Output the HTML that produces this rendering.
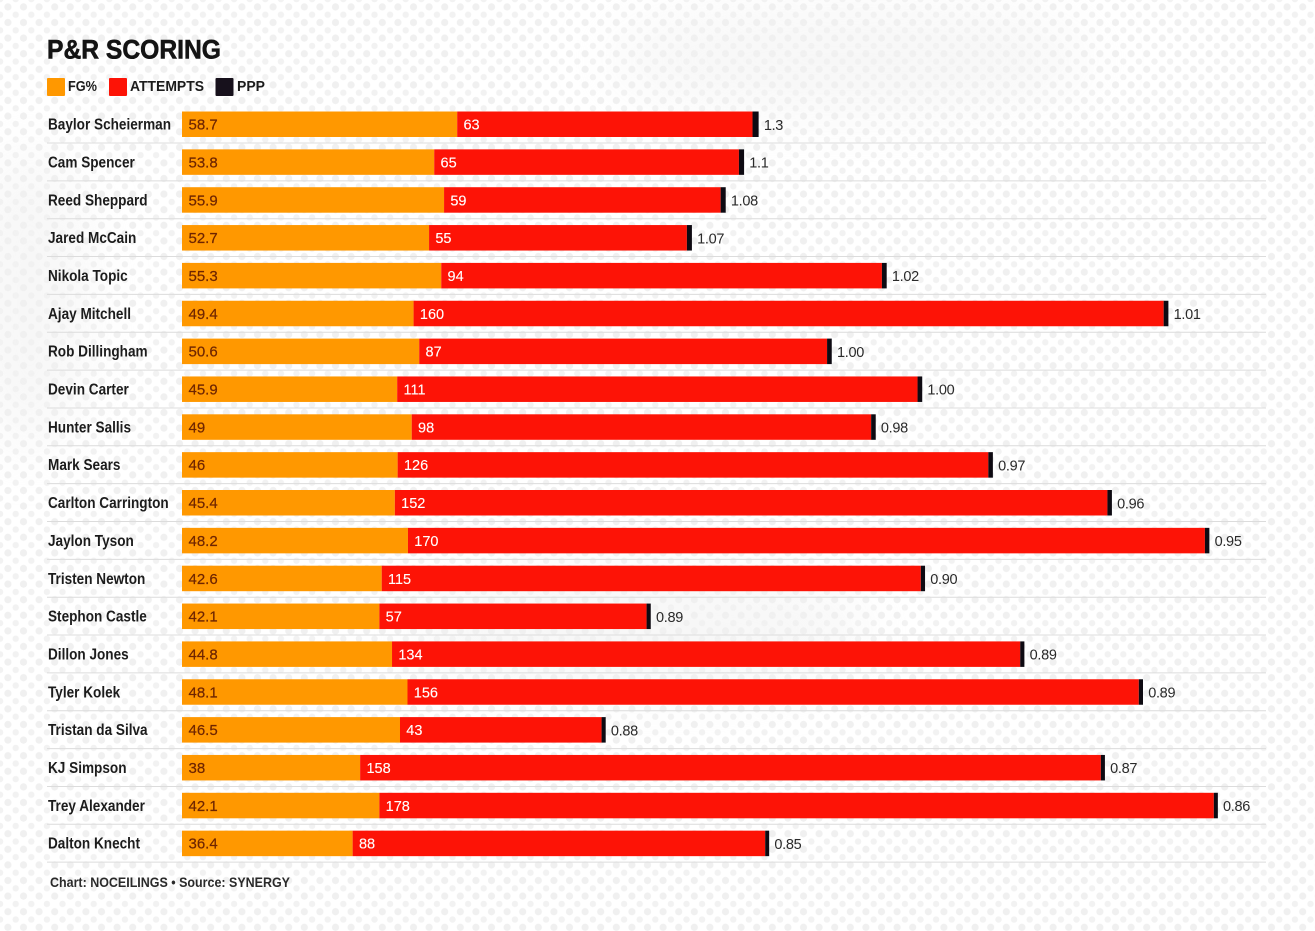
<!DOCTYPE html>
<html lang="en">
<head>
<meta charset="utf-8">
<title>P&amp;R Scoring</title>
<style>
html,body{margin:0;padding:0;background:#fff;}
body{width:1315px;height:931px;overflow:hidden;}
svg{display:block;font-family:"Liberation Sans",sans-serif;}
</style>
</head>
<body>
<svg id="chart" xmlns="http://www.w3.org/2000/svg" width="1315" height="931" viewBox="0 0 1315 931">
  <defs>
    <pattern id="dots" width="15.6" height="15.6" patternUnits="userSpaceOnUse" patternTransform="translate(4 3)">
      <circle cx="3.9" cy="3.9" r="3.6" fill="#f0f0f0"/>
      <circle cx="11.7" cy="11.7" r="3.2" fill="#f2f2f2"/>
    </pattern>
    <filter id="soft" x="-30%" y="-30%" width="160%" height="160%"><feGaussianBlur stdDeviation="28"/></filter>
  </defs>
  <rect width="1315" height="931" fill="#fff"/>
  <rect width="1315" height="931" fill="url(#dots)"/>
  <g fill="#f1f1f1" opacity=".55" filter="url(#soft)">
    <ellipse cx="850" cy="60" rx="240" ry="55"/>
    <ellipse cx="30" cy="300" rx="60" ry="150"/>
    <ellipse cx="640" cy="630" rx="230" ry="60"/>
  </g>
  <text x="47" y="58.500" font-size="27" font-weight="700" fill="#141414" stroke="#141414" stroke-width=".6" textLength="174" lengthAdjust="spacingAndGlyphs">P&amp;R SCORING</text>
  <g font-size="14.5" font-weight="700" fill="#1c1c1c">
    <g>
      <rect x="47" y="78" width="18" height="18" rx="1" fill="#ff9800"/>
      <text x="68" y="91" textLength="29" lengthAdjust="spacingAndGlyphs">FG%</text>
    </g>
    <g>
      <rect x="109" y="78" width="18" height="18" rx="1" fill="#fd1306"/>
      <text x="130" y="91" textLength="74" lengthAdjust="spacingAndGlyphs">ATTEMPTS</text>
    </g>
    <g>
      <rect x="215.500" y="78" width="18" height="18" rx="1" fill="#17111c"/>
      <text x="237" y="91" textLength="28" lengthAdjust="spacingAndGlyphs">PPP</text>
    </g>
  </g>
  <g id="rows"></g>
  <text x="50" y="887" font-size="14" font-weight="700" fill="#2a2a2a" textLength="240" lengthAdjust="spacingAndGlyphs">Chart: NOCEILINGS • Source: SYNERGY</text>
</svg>
<script>
const players = ["Baylor Scheierman","Cam Spencer","Reed Sheppard","Jared McCain","Nikola Topic","Ajay Mitchell","Rob Dillingham","Devin Carter","Hunter Sallis","Mark Sears","Carlton Carrington","Jaylon Tyson","Tristen Newton","Stephon Castle","Dillon Jones","Tyler Kolek","Tristan da Silva","KJ Simpson","Trey Alexander","Dalton Knecht"];
const fgPct = [58.7,53.8,55.9,52.7,55.3,49.4,50.6,45.9,49,46,45.4,48.2,42.6,42.1,44.8,48.1,46.5,38,42.1,36.4];
const attempts = [63,65,59,55,94,160,87,111,98,126,152,170,115,57,134,156,43,158,178,88];
const ppp = [1.3,1.1,1.08,1.07,1.02,1.01,1.00,1.00,0.98,0.97,0.96,0.95,0.90,0.89,0.89,0.89,0.88,0.87,0.86,0.85];
const pppLabels = ["1.3","1.1","1.08","1.07","1.02","1.01","1.00","1.00","0.98","0.97","0.96","0.95","0.90","0.89","0.89","0.89","0.88","0.87","0.86","0.85"];

const SVGNS = "http://www.w3.org/2000/svg";
const rowsGroup = document.getElementById("rows");
const xScale = v => 182 + v * 4.688;
const rowTop = i => 111.5 + i * 37.85;
const BAR_H = 25.5;

function shape(tag, attrs, parent) {
  const el = document.createElementNS(SVGNS, tag);
  for (const k in attrs) el.setAttribute(k, attrs[k]);
  parent.appendChild(el);
  return el;
}

players.forEach((name, i) => {
  const top = rowTop(i);
  const mid = top + BAR_H / 2;
  const row = shape("g", {}, rowsGroup);
  
  

  const sep = shape("line", {x1: 47, x2: 1266, y1: top + 31.5, y2: top + 31.5, stroke: "#dcdcdc", "stroke-width": 1}, row);
  
  

  const label = shape("text", {x: 48, y: mid + 5.3, "font-size": 15.5, "font-weight": 700, fill: "#1c1c1c"}, row);
  label.textContent = name;
  
  
  label.setAttribute('lengthAdjust', 'spacingAndGlyphs');
  label.setAttribute('textLength', (label.getComputedTextLength() * 0.876).toFixed(1));

  const x1 = xScale(0), x2 = xScale(fgPct[i]), x3 = xScale(fgPct[i] + attempts[i]), x4 = xScale(fgPct[i] + attempts[i] + ppp[i]);

  const fgBar = shape("rect", {x: x1, y: top, width: x2 - x1, height: BAR_H, fill: "#ff9800"}, row);
  
  

  const attBar = shape("rect", {x: x2, y: top, width: x3 - x2, height: BAR_H, fill: "#fd1306"}, row);
  
  

  const pppBar = shape("rect", {x: x3, y: top, width: x4 - x3, height: BAR_H, fill: "#0e0a12"}, row);
  
  

  const fgText = shape("text", {x: x1 + 6.5, y: mid + 5.3, "font-size": 15, fill: "#6e2500", stroke: "#6e2500", "stroke-width": 0.2}, row);
  fgText.textContent = String(fgPct[i]);
  
  

  const attText = shape("text", {x: x2 + 6.3, y: mid + 5.3, "font-size": 14.5, fill: "#fff", stroke: "#fff", "stroke-width": 0.12}, row);
  attText.textContent = String(attempts[i]);
  
  

  const pppText = shape("text", {x: x4 + 5.2, y: mid + 5.5, "font-size": 14.5, fill: "#2a2a2a"}, row);
  pppText.textContent = pppLabels[i];
  
  
  pppText.style.letterSpacing = "-0.3px";
});
</script>
</body>
</html>
